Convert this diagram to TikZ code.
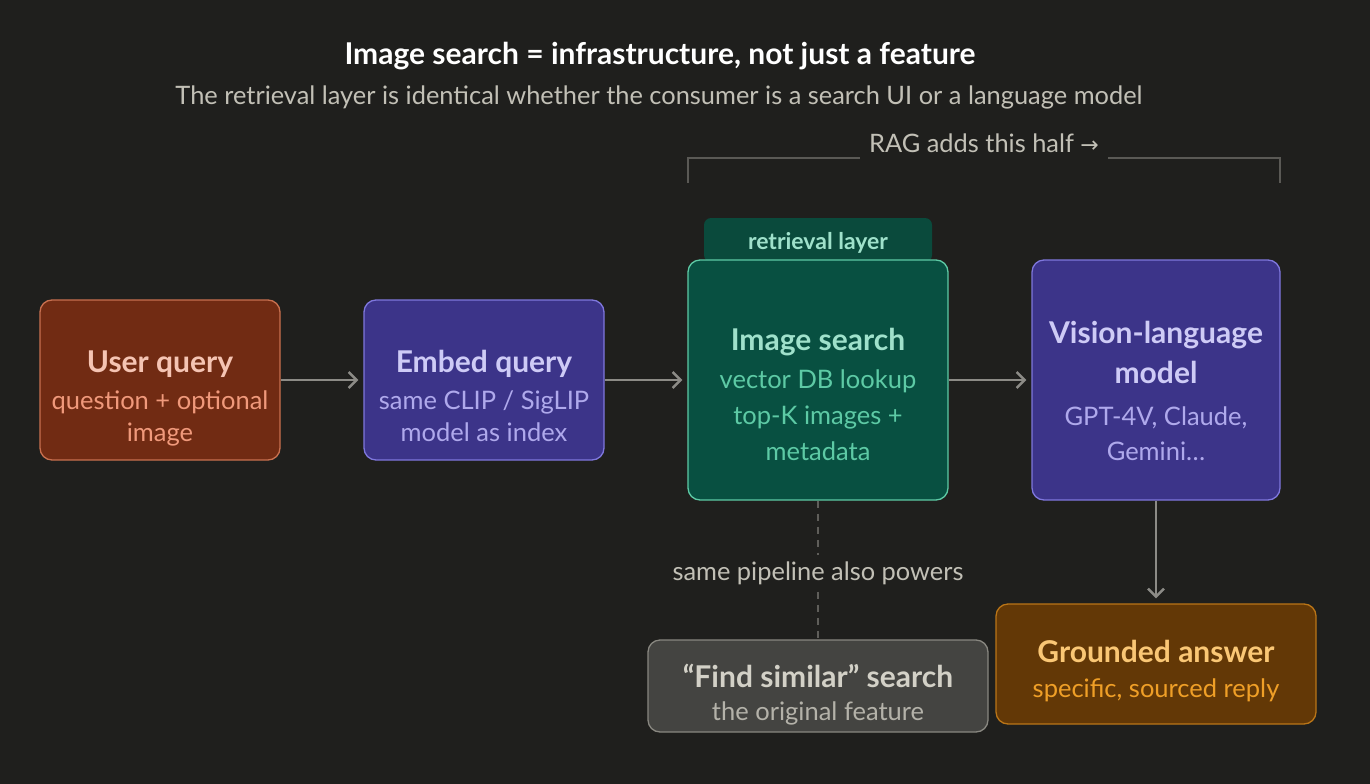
\documentclass[tikz,border=0pt]{standalone}
\usepackage{fontspec}
\setmainfont{Lato}
\newfontfamily\symfont{DejaVu Sans}
\usetikzlibrary{arrows.meta}
\definecolor{bg}{HTML}{1F1F1D}
\definecolor{arrowc}{HTML}{8C8B86}
\definecolor{bracketc}{HTML}{5A5955}
\definecolor{dashc}{HTML}{5F5E5A}
\definecolor{titlec}{HTML}{FFFFFF}
\definecolor{subtitlec}{HTML}{C2C0B6}
\definecolor{labelc}{HTML}{C2C0B6}
\definecolor{userfill}{HTML}{712B13}
\definecolor{userdraw}{HTML}{C8704F}
\definecolor{usertitle}{HTML}{F5C4B3}
\definecolor{usersub}{HTML}{F0997B}
\definecolor{purfill}{HTML}{3C3489}
\definecolor{purdraw}{HTML}{7F77DD}
\definecolor{purtitle}{HTML}{CECBF6}
\definecolor{pursub}{HTML}{AFA9EC}
\definecolor{grnfill}{HTML}{085041}
\definecolor{grndraw}{HTML}{5DCAA5}
\definecolor{grntitle}{HTML}{9FE1CB}
\definecolor{grnsub}{HTML}{5DCAA5}
\definecolor{tabfill}{HTML}{0A4A3C}
\definecolor{ambfill}{HTML}{633806}
\definecolor{ambdraw}{HTML}{BA7517}
\definecolor{ambtitle}{HTML}{FAC775}
\definecolor{ambsub}{HTML}{EF9F27}
\definecolor{gryfill}{HTML}{444441}
\definecolor{grydraw}{HTML}{888780}
\definecolor{grytitle}{HTML}{D3D1C7}
\definecolor{grysub}{HTML}{B4B2A9}
\tikzset{
  boxbase/.style={rounded corners=12pt, line width=1.3pt, inner sep=0pt},
  ttl/.style={anchor=base, inner sep=0pt, font=\fontsize{30}{34}\selectfont\bfseries},
  sub/.style={anchor=base, inner sep=0pt, font=\fontsize{25.5}{30}\selectfont},
  flow/.style={draw=arrowc, line width=2.4pt, shorten >=5pt, -{Straight Barb[length=8pt,width=16pt,line width=2.4pt]}},
}
\begin{document}
\begin{tikzpicture}[x=1pt,y=-1pt]
\fill[bg] (0,0) rectangle (1370,784);
\useasboundingbox (0,0) rectangle (1370,784);

% titles
\node[anchor=base, inner sep=0pt, text=titlec, font=\fontsize{30}{34}\selectfont\bfseries] (title) at (660,64) {Image search = infrastructure, not just a feature};
\node[anchor=base, inner sep=0pt, text=subtitlec, font=\fontsize{25.4}{30}\selectfont] (subtitle) at (659,104) {The retrieval layer is identical whether the consumer is a search UI or a language model};

% bracket
\coordinate (bl) at (688,183);
\coordinate (blt) at (688,158);
\coordinate (br) at (1280,183);
\coordinate (brt) at (1280,158);
\node[anchor=base, inner sep=0pt, text=labelc, font=\fontsize{25.4}{30}\selectfont] (rag) at (984,152) {RAG adds this half {\symfont\fontsize{22}{26}\selectfont →}};
\draw[bracketc, line width=1.5pt] (bl) -- (blt) -- (860,158);
\draw[bracketc, line width=1.5pt] (1108,158) -- (brt) -- (br);

% boxes
\node[boxbase, fill=userfill, draw=userdraw, minimum width=240pt, minimum height=160pt] (user) at (160,380) {};
\node[boxbase, fill=purfill, draw=purdraw, minimum width=240pt, minimum height=160pt] (embed) at (484,380) {};
\node[boxbase, fill=tabfill, rounded corners=7pt, minimum width=228pt, minimum height=44pt] (tab) at (818,240) {};
\node[boxbase, fill=grnfill, draw=grndraw, minimum width=260pt, minimum height=240pt] (search) at (818,380) {};
\node[boxbase, fill=purfill, draw=purdraw, minimum width=248pt, minimum height=240pt] (vlm) at (1156,380) {};
\node[boxbase, fill=ambfill, draw=ambdraw, minimum width=320pt, minimum height=120pt] (answer) at (1156,664) {};
\node[boxbase, fill=gryfill, draw=grydraw, minimum width=340pt, minimum height=92pt] (similar) at (818,686) {};

% texts
\node[ttl, text=usertitle] (usert) at (160,372) {User query};
\node[sub, text=usersub] (users1) at (160,409) {question + optional};
\node[sub, text=usersub] (users2) at (160,441) {image};

\node[ttl, text=purtitle] (embedt) at (484,372) {Embed query};
\node[sub, text=pursub] (embeds1) at (484,409) {same CLIP / SigLIP};
\node[sub, text=pursub] (embeds2) at (484,441) {model as index};

\node[anchor=base, inner sep=0pt, text=grntitle, font=\fontsize{23}{26}\selectfont\bfseries] (tabt) at (818,249) {retrieval layer};
\node[ttl, text=grntitle] (searcht) at (818,350) {Image search};
\node[sub, text=grnsub] (searchs1) at (818,388) {vector DB lookup};
\node[sub, text=grnsub] (searchs2) at (818,424) {top-K images +};
\node[sub, text=grnsub] (searchs3) at (818,460) {metadata};

\node[ttl, text=purtitle] (vlmt1) at (1156,343) {Vision-language};
\node[ttl, text=purtitle] (vlmt2) at (1156,383) {model};
\node[sub, text=pursub] (vlms1) at (1156,425) {GPT-4V, Claude,};
\node[sub, text=pursub] (vlms2) at (1156,460) {Gemini…};

\node[ttl, text=ambtitle] (answert) at (1156,662) {Grounded answer};
\node[sub, text=ambsub] (answers) at (1156,697) {specific, sourced reply};

\node[ttl, text=grytitle] (similart) at (818,687) {“Find similar” search};
\node[sub, text=grysub] (similars) at (818,720) {the original feature};

% connectors
\draw[flow] (user.east) -- (embed.west);
\draw[flow] (embed.east) -- (search.west);
\draw[flow] (search.east) -- (vlm.west);
\draw[flow] (vlm.south) -- (answer.north);
\draw[dashc, line width=1.5pt, dash pattern=on 7pt off 6pt] (search.south) -- (similar.north);
\node[anchor=base, fill=bg, inner xsep=4pt, inner ysep=6pt, text=labelc, font=\fontsize{25.4}{30}\selectfont] (pipe) at (818,580) {same pipeline also powers};
\end{tikzpicture}
\end{document}
